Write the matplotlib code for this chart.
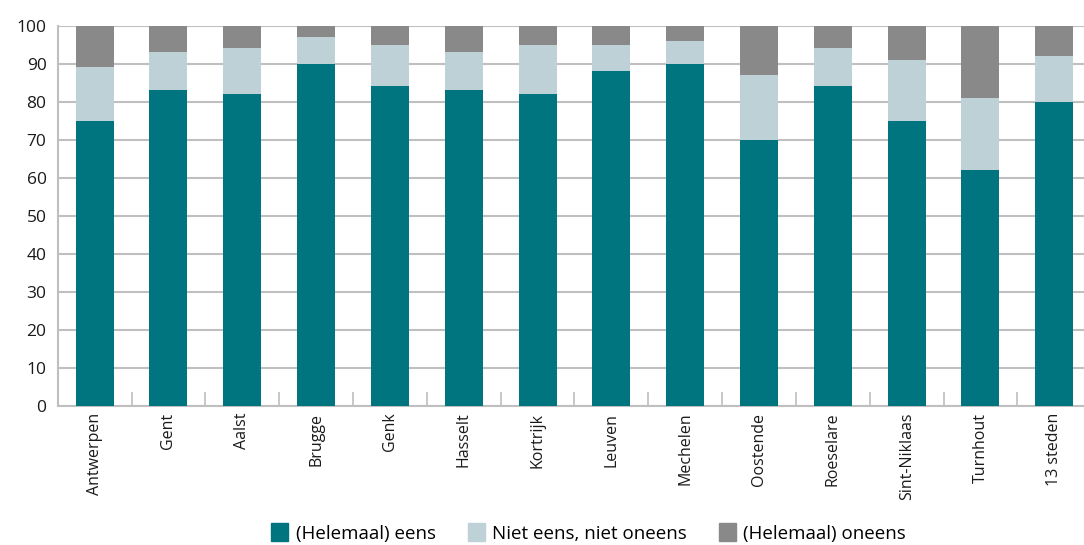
import matplotlib.pyplot as plt
import matplotlib.patches as mpatches
import numpy as np

steden = ['Antwerpen', 'Gent', 'Aalst', 'Brugge', 'Genk', 'Hasselt', 'Kortrijk',
          'Leuven', 'Mechelen', 'Oostende', 'Roeselare', 'Sint-Niklaas', 'Turnhout',
          '13 steden']
eens = [75, 83, 82, 90, 84, 83, 82, 88, 90, 70, 84, 75, 62, 80]
neutraal = [14, 10, 12, 7, 11, 10, 13, 7, 6, 17, 10, 16, 19, 12]
oneens = [11, 7, 6, 3, 5, 7, 5, 5, 4, 13, 6, 9, 19, 8]

kleuren = ['#00747f', '#bdd1d7', '#898989']
labels = ['(Helemaal) eens', 'Niet eens, niet oneens', '(Helemaal) oneens']
raster = '#bfbfbf'

plt.rcParams['font.family'] = ['Open Sans', 'DejaVu Sans']

fig = plt.figure(figsize=(10.84, 5.45), dpi=100)
# de as loopt iets voorbij de rechterrand
ax = fig.add_axes([57.7 / 1084, 1 - 405.7 / 545, 1033.5 / 1084, 380 / 545])

x = np.arange(len(steden))
onder = np.zeros(len(steden))
for waarden, kleur in zip([eens, neutraal, oneens], kleuren):
    ax.bar(x, waarden, width=0.515, bottom=onder, color=kleur, zorder=3)
    onder += np.array(waarden)

ax.set_xlim(-0.5, len(steden) - 0.5)
ax.set_ylim(0, 100)
ax.set_yticks(range(0, 101, 10))
ax.grid(axis='y', color=raster, linewidth=1.5, zorder=0)

ax.set_xticks(x)
ax.set_xticklabels(steden, rotation=90, fontsize=11.5, color='#1a1a1a')
ax.tick_params(axis='x', length=0, pad=5)
ax.set_xticks(np.arange(0.5, len(steden) - 0.5), minor=True)
ax.tick_params(axis='x', which='minor', direction='in', length=10,
               color=raster, width=1.2)
ax.tick_params(axis='y', length=0, labelsize=12.5, pad=8, labelcolor='#1a1a1a')

for kant in ['top', 'right']:
    ax.spines[kant].set_visible(False)
for kant in ['left', 'bottom']:
    ax.spines[kant].set_color(raster)
    ax.spines[kant].set_linewidth(1.5)

handles = [mpatches.Patch(color=k, label=l) for k, l in zip(kleuren, labels)]
fig.legend(handles=handles, loc='center', bbox_to_anchor=(0.543, 0.022),
           ncol=3, frameon=False, fontsize=13.5, handlelength=0.9, handleheight=1.1,
           handletextpad=0.4, columnspacing=1.7)

fig.savefig('out.png', dpi=100)
